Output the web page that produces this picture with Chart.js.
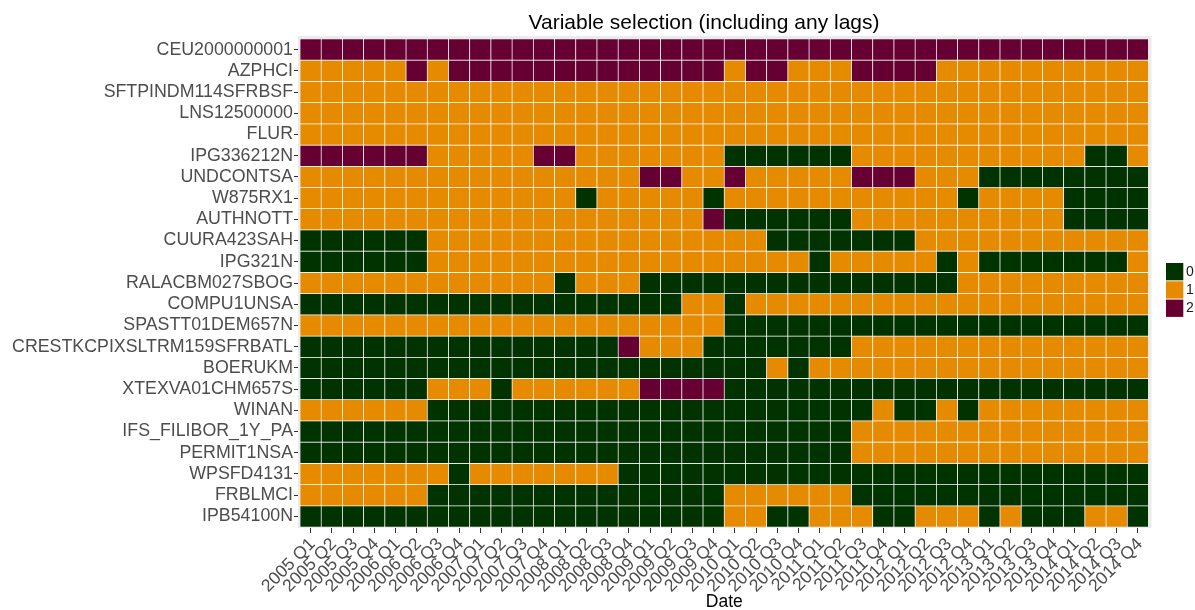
<!DOCTYPE html>
<html>
<head>
<meta charset="utf-8">
<script src="https://cdn.jsdelivr.net/npm/chart.js@4.4.1/dist/chart.umd.min.js"></script>
<style>
  html, body { margin: 0; padding: 0; background: #fff; }
  #wrap { width: 1195px; height: 610px; }
</style>
</head>
<body>
<div id="wrap"><canvas id="chart" width="1195" height="610"></canvas></div>
<script>
const quarters = [
  '2005 Q1', '2005 Q2', '2005 Q3', '2005 Q4', '2006 Q1', '2006 Q2', '2006 Q3', '2006 Q4',
  '2007 Q1', '2007 Q2', '2007 Q3', '2007 Q4', '2008 Q1', '2008 Q2', '2008 Q3', '2008 Q4',
  '2009 Q1', '2009 Q2', '2009 Q3', '2009 Q4', '2010 Q1', '2010 Q2', '2010 Q3', '2010 Q4',
  '2011 Q1', '2011 Q2', '2011 Q3', '2011 Q4', '2012 Q1', '2012 Q2', '2012 Q3', '2012 Q4',
  '2013 Q1', '2013 Q2', '2013 Q3', '2013 Q4', '2014 Q1', '2014 Q2', '2014 Q3', '2014 Q4'
];

// top to bottom, as in the picture
const variables = [
  'CEU2000000001', 'AZPHCI', 'SFTPINDM114SFRBSF', 'LNS12500000', 'FLUR', 'IPG336212N',
  'UNDCONTSA', 'W875RX1', 'AUTHNOTT', 'CUURA423SAH', 'IPG321N', 'RALACBM027SBOG',
  'COMPU1UNSA', 'SPASTT01DEM657N', 'CRESTKCPIXSLTRM159SFRBATL', 'BOERUKM', 'XTEXVA01CHM657S',
  'WINAN', 'IFS_FILIBOR_1Y_PA', 'PERMIT1NSA', 'WPSFD4131', 'FRBLMCI', 'IPB54100N'
];

const levels = ['0', '1', '2'];

// selected lags per variable, one value per quarter
const lagRows = [
  [2,2,2,2,2,2,2,2,2,2, 2,2,2,2,2,2,2,2,2,2, 2,2,2,2,2,2,2,2,2,2, 2,2,2,2,2,2,2,2,2,2],
  [1,1,1,1,1,2,1,2,2,2, 2,2,2,2,2,2,2,2,2,2, 1,2,2,1,1,1,2,2,2,2, 1,1,1,1,1,1,1,1,1,1],
  [1,1,1,1,1,1,1,1,1,1, 1,1,1,1,1,1,1,1,1,1, 1,1,1,1,1,1,1,1,1,1, 1,1,1,1,1,1,1,1,1,1],
  [1,1,1,1,1,1,1,1,1,1, 1,1,1,1,1,1,1,1,1,1, 1,1,1,1,1,1,1,1,1,1, 1,1,1,1,1,1,1,1,1,1],
  [1,1,1,1,1,1,1,1,1,1, 1,1,1,1,1,1,1,1,1,1, 1,1,1,1,1,1,1,1,1,1, 1,1,1,1,1,1,1,1,1,1],
  [2,2,2,2,2,2,1,1,1,1, 1,2,2,1,1,1,1,1,1,1, 0,0,0,0,0,0,1,1,1,1, 1,1,1,1,1,1,1,0,0,1],
  [1,1,1,1,1,1,1,1,1,1, 1,1,1,1,1,1,2,2,1,1, 2,1,1,1,1,1,2,2,2,1, 1,1,0,0,0,0,0,0,0,0],
  [1,1,1,1,1,1,1,1,1,1, 1,1,1,0,1,1,1,1,1,0, 1,1,1,1,1,1,1,1,1,1, 1,0,1,1,1,1,0,0,0,0],
  [1,1,1,1,1,1,1,1,1,1, 1,1,1,1,1,1,1,1,1,2, 0,0,0,0,0,0,1,1,1,1, 1,1,1,1,1,1,0,0,0,0],
  [0,0,0,0,0,0,1,1,1,1, 1,1,1,1,1,1,1,1,1,1, 1,1,0,0,0,0,0,0,0,1, 1,1,1,1,1,1,1,1,1,1],
  [0,0,0,0,0,0,1,1,1,1, 1,1,1,1,1,1,1,1,1,1, 1,1,1,1,0,1,1,1,1,1, 0,1,0,0,0,0,0,0,0,1],
  [1,1,1,1,1,1,1,1,1,1, 1,1,0,1,1,1,0,0,0,0, 0,0,0,0,0,0,0,0,0,0, 0,1,1,1,1,1,1,1,1,1],
  [0,0,0,0,0,0,0,0,0,0, 0,0,0,0,0,0,0,0,1,1, 0,1,1,1,1,1,1,1,1,1, 1,1,1,1,1,1,1,1,1,1],
  [1,1,1,1,1,1,1,1,1,1, 1,1,1,1,1,1,1,1,1,1, 0,0,0,0,0,0,0,0,0,0, 0,0,0,0,0,0,0,0,0,0],
  [0,0,0,0,0,0,0,0,0,0, 0,0,0,0,0,2,1,1,1,0, 0,0,0,0,0,0,1,1,1,1, 1,1,1,1,1,1,1,1,1,1],
  [0,0,0,0,0,0,0,0,0,0, 0,0,0,0,0,0,0,0,0,0, 0,0,1,0,1,1,1,1,1,1, 1,1,1,1,1,1,1,1,1,1],
  [0,0,0,0,0,0,1,1,1,0, 1,1,1,1,1,1,2,2,2,2, 0,0,0,0,0,0,0,0,0,0, 0,0,0,0,0,0,0,0,0,0],
  [1,1,1,1,1,1,0,0,0,0, 0,0,0,0,0,0,0,0,0,0, 0,0,0,0,0,0,0,1,0,0, 1,0,1,1,1,1,1,1,1,1],
  [0,0,0,0,0,0,0,0,0,0, 0,0,0,0,0,0,0,0,0,0, 0,0,0,0,0,0,1,1,1,1, 1,1,1,1,1,1,1,1,1,1],
  [0,0,0,0,0,0,0,0,0,0, 0,0,0,0,0,0,0,0,0,0, 0,0,0,0,0,0,1,1,1,1, 1,1,1,1,1,1,1,1,1,1],
  [1,1,1,1,1,1,1,0,1,1, 1,1,1,1,1,0,0,0,0,0, 0,0,0,0,0,0,0,0,0,0, 0,0,0,0,0,0,0,0,0,0],
  [1,1,1,1,1,1,0,0,0,0, 0,0,0,0,0,0,0,0,0,0, 1,1,1,1,1,1,0,0,0,0, 0,0,0,0,0,0,0,0,0,0],
  [0,0,0,0,0,0,0,0,0,0, 0,0,0,0,0,0,0,0,0,0, 1,1,0,0,1,1,1,0,0,1, 1,1,0,1,0,0,0,1,1,0]
];

const colours = ['#003300', '#E68A00', '#660033'];
const FONT = '"Liberation Sans", Arial, sans-serif';

const datasets = variables.map((name, i) => ({
  label: name,
  data: quarters.map(() => [i, i + 1]),
  backgroundColor: lagRows[i].map(v => colours[v]),
  borderColor: '#ffffff',
  borderWidth: 0.7,
  borderSkipped: false,
  grouped: false,
  barPercentage: 1,
  categoryPercentage: 1
}));

// grey ggplot-style panel behind the tiles
const panelPlugin = {
  id: 'panel',
  beforeDatasetsDraw(chart) {
    const { ctx, chartArea: a } = chart;
    ctx.save();
    ctx.fillStyle = '#EBEBEB';
    ctx.fillRect(a.left - 2, a.top - 3, a.right - a.left + 5, a.bottom - a.top + 4);
    ctx.restore();
  }
};

// title (sits a little left of the panel centre) and the 0/1/2 key
const labelsPlugin = {
  id: 'labels',
  afterDraw(chart) {
    const ctx = chart.ctx;
    ctx.save();
    ctx.fillStyle = '#000000';
    ctx.font = '21px ' + FONT;
    ctx.textAlign = 'center';
    ctx.textBaseline = 'alphabetic';
    ctx.fillText('Variable selection (including any lags)', 704, 29.3);

    ctx.textAlign = 'left';
    ctx.textBaseline = 'middle';
    ctx.font = '14px ' + FONT;
    levels.forEach((lab, i) => {
      const y = 263 + i * 18.3;
      ctx.fillStyle = colours[i];
      ctx.fillRect(1166, y, 17.3, 17.3);
      ctx.fillStyle = '#1A1A1A';
      ctx.fillText(lab, 1186, y + 9);
    });
    ctx.restore();
  }
};

new Chart(document.getElementById('chart'), {
  type: 'bar',
  data: { labels: quarters, datasets },
  options: {
    responsive: false,
    animation: false,
    layout: { padding: { left: 0, right: 46.5, top: 39, bottom: 0 } },
    plugins: {
      legend: { display: false },
      tooltip: { enabled: false },
      title: { display: false }
    },
    scales: {
      x: {
        grid: { drawOnChartArea: false, offset: false, tickLength: 6, color: '#333333' },
        border: { display: false },
        ticks: {
          autoSkip: false, minRotation: 45, maxRotation: 45, padding: 1, labelOffset: 2,
          color: '#4D4D4D', font: { family: FONT, size: 17.6 }
        },
        title: {
          display: true, text: 'Date', color: '#000000',
          font: { family: FONT, size: 17.5, lineHeight: 0.9 }, padding: { top: 0, bottom: 0 }
        },
        afterFit: s => { s.height = 83; }
      },
      y: {
        type: 'linear', min: 0, max: 23, reverse: true,
        afterBuildTicks: s => { s.ticks = variables.map((_, i) => ({ value: i + 0.5 })); },
        grid: { drawOnChartArea: false, tickLength: 6, color: '#333333' },
        border: { display: false },
        ticks: {
          autoSkip: false, padding: 1, color: '#4D4D4D',
          font: { family: FONT, size: 17.8 },
          callback: v => variables[Math.floor(v)]
        },
        afterFit: s => { s.width = 300; }
      }
    }
  },
  plugins: [panelPlugin, labelsPlugin]
});
</script>
</body>
</html>
